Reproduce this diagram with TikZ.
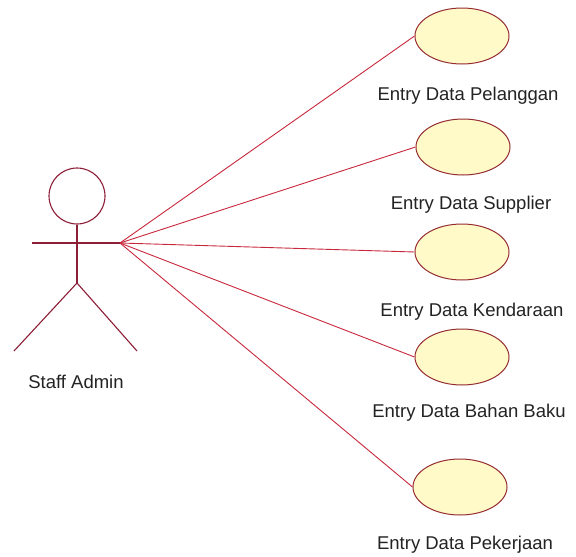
\documentclass[tikz,border=0pt]{standalone}
\usepackage{fontspec}
\setmainfont{Liberation Sans}
\usetikzlibrary{shapes.geometric}
\definecolor{actorline}{RGB}{140,30,55}
\definecolor{assocline}{RGB}{200,40,60}
\definecolor{ucfill}{RGB}{255,250,200}
\definecolor{ucline}{RGB}{150,45,50}
\definecolor{labeltext}{RGB}{35,35,35}
\tikzset{
  usecase/.style={ellipse, draw=ucline, fill=ucfill, line width=1pt,
    minimum width=94pt, minimum height=56pt, inner sep=0pt},
  uclabel/.style={font=\fontsize{18.5}{20}\selectfont, text=labeltext, inner sep=0pt},
  actorpart/.style={draw=actorline, line width=1.1pt},
  assoc/.style={draw=assocline, line width=0.9pt}
}
\begin{document}
\begin{tikzpicture}[x=1pt, y=-1pt]
  \useasboundingbox (0,0) rectangle (576,557);
  \fill[white] (0,0) rectangle (576,557);

  % actor: stick figure
  \node[circle, actorpart, minimum size=56pt, inner sep=0pt] (head) at (77,196) {};
  \coordinate (hip) at (77,283);
  \coordinate (lhand) at (32,243);
  \coordinate (hand) at (120,243);
  \coordinate (lfoot) at (14,351);
  \coordinate (rfoot) at (137,351);
  \draw[actorpart] (head.south) -- (hip);
  \draw[actorpart] (lhand) -- (hand);
  \draw[actorpart] (lfoot) -- (hip) -- (rfoot);
  \node[uclabel] (actorname) at (76,382) {Staff Admin};

  % use cases
  \node[usecase] (uc1) at (462,36) {};
  \node[usecase] (uc2) at (463,147) {};
  \node[usecase] (uc3) at (462,252) {};
  \node[usecase] (uc4) at (462,357) {};
  \node[usecase] (uc5) at (460,487) {};

  \node[uclabel] (l1) at (468,96) {Entry Data Pelanggan};
  \node[uclabel] (l2) at (471,205) {Entry Data Supplier};
  \node[uclabel] (l3) at (472,312) {Entry Data Kendaraan};
  \node[uclabel] (l4) at (469,413) {Entry Data Bahan Baku};
  \node[uclabel] (l5) at (465,545) {Entry Data Pekerjaan};

  % associations
  \foreach \u in {uc1,uc2,uc3,uc4,uc5}
    \draw[assoc] (hand) -- (\u.west);
\end{tikzpicture}
\end{document}
